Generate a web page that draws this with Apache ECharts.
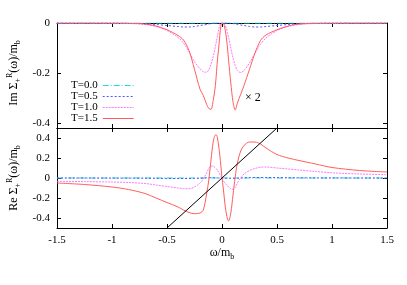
<!DOCTYPE html>
<html><head><meta charset="utf-8">
<script src="https://cdn.jsdelivr.net/npm/echarts@6/dist/echarts.min.js"></script>
<style>html,body{margin:0;padding:0;background:#fff}#c{width:407px;height:285px}</style>
</head><body><div id="c"></div>
<script>
var omega = [-1.5,-1.25,-1.0,-0.85,-0.7,-0.6,-0.5,-0.4,-0.35,-0.3,-0.25,-0.2,-0.17,-0.14,-0.12,-0.1,-0.08,-0.06,-0.05,-0.04,-0.03,-0.02,-0.01,
 0,
 0.01,0.02,0.03,0.04,0.05,0.06,0.08,0.1,0.12,0.14,0.17,0.2,0.25,0.3,0.35,0.4,0.5,0.6,0.7,0.85,1.0,1.25,1.5];

var seriesNames = ['T=0.0','T=0.5','T=1.0','T=1.5'];

var imT00 = [0,0,0,0,0,0,0,0,0,0,0,0,0,0,0,0,0,0,0,0,0,0,0,
 0,
 0,0,0,0,0,0,0,0,0,0,0,0,0,0,0,0,0,0,0,0,0,0,0];
var imT05 = [0,0,0,-0.001,-0.003,-0.006,-0.01,-0.014,-0.016,-0.016,-0.014,-0.01,-0.008,-0.006,-0.004,-0.002,-0.001,0,0,0,0,0,0,
 0,
 0,0,0,0,0,0,-0.001,-0.002,-0.004,-0.006,-0.008,-0.01,-0.014,-0.016,-0.016,-0.014,-0.01,-0.006,-0.003,-0.001,0,0,0];
var imT10 = [0,0,-0.001,-0.002,-0.006,-0.014,-0.03,-0.058,-0.08,-0.115,-0.155,-0.183,-0.195,-0.197,-0.187,-0.165,-0.135,-0.095,-0.072,-0.048,-0.025,-0.01,-0.002,
 0,
 0,-0.003,-0.01,-0.022,-0.038,-0.058,-0.1,-0.14,-0.17,-0.19,-0.198,-0.19,-0.16,-0.12,-0.085,-0.06,-0.03,-0.014,-0.006,-0.002,-0.001,0,0];
var imT15 = [0,0,0,-0.001,-0.004,-0.012,-0.027,-0.05,-0.068,-0.11,-0.185,-0.265,-0.29,-0.325,-0.342,-0.345,-0.31,-0.25,-0.195,-0.14,-0.1,-0.05,-0.012,
 0,
 -0.002,-0.01,-0.03,-0.06,-0.1,-0.15,-0.24,-0.315,-0.348,-0.32,-0.285,-0.25,-0.185,-0.12,-0.07,-0.048,-0.027,-0.012,-0.004,-0.001,0,0,0];

var reT00 = [0,0,0,0,0,0,0,0,0,0,0,0,0,0,0,0,0,0,0,0,0,0,0,
 0,
 0,0,0,0,0,0,0,0,0,0,0,0,0,0,0,0,0,0,0,0,0,0,0];
var reT05 = [0,0,-0.001,-0.001,-0.002,-0.003,-0.004,-0.005,-0.005,-0.005,-0.004,-0.002,0,0.002,0.003,0.003,0.003,0.002,0.002,0.001,0.001,0,0,
 0,
 0,0,-0.001,-0.001,-0.002,-0.002,-0.003,-0.003,-0.003,-0.002,0,0.002,0.004,0.005,0.005,0.005,0.004,0.003,0.002,0.001,0.001,0,0];
var reT10 = [-0.033,-0.036,-0.04,-0.045,-0.055,-0.07,-0.085,-0.1,-0.107,-0.108,-0.09,-0.05,-0.01,0.05,0.095,0.12,0.118,0.1,0.09,0.075,0.058,0.038,0.015,
 -0.01,
 -0.025,-0.04,-0.055,-0.066,-0.078,-0.09,-0.108,-0.114,-0.095,-0.05,0.0,0.04,0.075,0.095,0.108,0.11,0.1,0.09,0.08,0.065,0.052,0.04,0.033];
var reT15 = [-0.05,-0.065,-0.09,-0.115,-0.155,-0.2,-0.245,-0.29,-0.32,-0.345,-0.357,-0.35,-0.32,-0.16,-0.02,0.18,0.36,0.43,0.43,0.39,0.32,0.23,0.12,
 0.0,
 -0.09,-0.19,-0.29,-0.36,-0.41,-0.43,-0.35,-0.17,0.01,0.15,0.27,0.325,0.36,0.36,0.34,0.3,0.235,0.2,0.175,0.14,0.105,0.075,0.06];

var diagOmega = [-0.5, 0.5];
var diagRe = [-0.5, 0.5];

var xTicks = [-1.5,-1,-0.5,0,0.5,1,1.5];
var imTicks = [-0.4,-0.2,0];
var reTicks = [-0.4,-0.2,0,0.2,0.4];

var FONT = 'Liberation Serif';
var colors = ['#22d8d8','#5555ff','#ff77ff','#ff5e5e'];
var dashes = [[6,2,1,2],[2,2],[2,1],'solid'];
var imData = [imT00, imT05, imT10, imT15];
var reData = [reT00, reT05, reT10, reT15];

function pairs(xs, ys){ return xs.map(function(x,i){ return [x, ys[i]]; }); }

function xAx(grid, pos, labels){
  return {type:'value', gridIndex:grid, position:pos, min:-1.5, max:1.5, interval:0.5,
    axisLine:{onZero:false, lineStyle:{color:'#000', width:1}},
    axisTick:{inside:true, length:4, lineStyle:{color:'#000'}},
    axisLabel:{show:labels, margin:7, color:'#000', fontFamily:FONT, fontSize:11},
    splitLine:{show:false}};
}
function yAx(grid, pos, min, max, ticks, labels){
  return {type:'value', gridIndex:grid, position:pos, min:min, max:max,
    axisLine:{onZero:false, lineStyle:{color:'#000', width:1}},
    axisTick:{inside:true, length:4, customValues:ticks, lineStyle:{color:'#000'}},
    axisLabel:{show:labels, customValues:ticks, margin:7, color:'#000', fontFamily:FONT, fontSize:11},
    splitLine:{show:false}};
}

var series = [];
for (var i=0;i<4;i++){
  series.push({name:seriesNames[i], type:'line', xAxisIndex:0, yAxisIndex:0,
    data:pairs(omega, imData[i]), symbol:'none', smooth:0.3, z:2+i,
    lineStyle:{color:colors[i], width:1, type:dashes[i]}, itemStyle:{color:colors[i]}});
}
for (var j=0;j<4;j++){
  series.push({name:seriesNames[j], type:'line', xAxisIndex:2, yAxisIndex:2,
    data:pairs(omega, reData[j]), symbol:'none', smooth:0.3, z:2+j,
    lineStyle:{color:colors[j], width:1, type:dashes[j]}, itemStyle:{color:colors[j]}});
}
series.push({name:'diag', type:'line', xAxisIndex:2, yAxisIndex:2,
  data:pairs(diagOmega, diagRe), symbol:'none', z:10,
  lineStyle:{color:'#000', width:1}});

var legendData = seriesNames.map(function(n, k){
  return {name:n, lineStyle:{color:colors[k], width:1, type:dashes[k]}};
});

var nameRich = {
  n:{fontFamily:FONT, fontSize:12, color:'#000', lineHeight:16, verticalAlign:'middle'},
  sup:{fontFamily:FONT, fontSize:8, color:'#000', lineHeight:8, verticalAlign:'top'},
  sub:{fontFamily:FONT, fontSize:8, color:'#000', lineHeight:8, verticalAlign:'bottom'}
};

var chart = echarts.init(document.getElementById('c'), null, {renderer:'canvas'});
chart.setOption({
  animation:false,
  backgroundColor:'#fff',
  grid:[{left:57, width:330, top:23, height:105},{left:57, width:330, top:128, height:100}],
  xAxis:[xAx(0,'bottom',false), xAx(0,'top',false), xAx(1,'bottom',true), xAx(1,'top',false)],
  yAxis:[yAx(0,'left',-0.42,0,imTicks,true), yAx(0,'right',-0.42,0,imTicks,false),
         yAx(1,'left',-0.5,0.5,reTicks,true), yAx(1,'right',-0.5,0.5,reTicks,false)],
  legend:{data:legendData, orient:'vertical', left:66, top:75, align:'right',
    itemWidth:31, itemHeight:11, itemGap:0, selectedMode:false,
    itemStyle:{color:'rgba(0,0,0,0)', borderColor:'rgba(0,0,0,0)', borderWidth:0, opacity:0},
    textStyle:{fontFamily:FONT, fontSize:11, color:'#000'}},
  series:series,
  graphic:[
    {type:'text', x:14, y:73, rotation:Math.PI/2,
      style:{text:'{n|Im Σ}{sub|+}{sup|R}{n|(ω)/m}{sub|b}', rich:nameRich, align:'center', verticalAlign:'middle'}},
    {type:'text', x:14, y:178, rotation:Math.PI/2,
      style:{text:'{n|Re Σ}{sub|+}{sup|R}{n|(ω)/m}{sub|b}', rich:nameRich, align:'center', verticalAlign:'middle'}},
    {type:'text', x:222, y:253,
      style:{text:'{n|ω/m}{sub|b}', rich:nameRich, align:'center', verticalAlign:'middle'}},
    {type:'text', x:245, y:98,
      style:{text:'× 2', fontFamily:FONT, fontSize:12, fill:'#000', align:'left', verticalAlign:'middle'}}
  ]
});
</script></body></html>
